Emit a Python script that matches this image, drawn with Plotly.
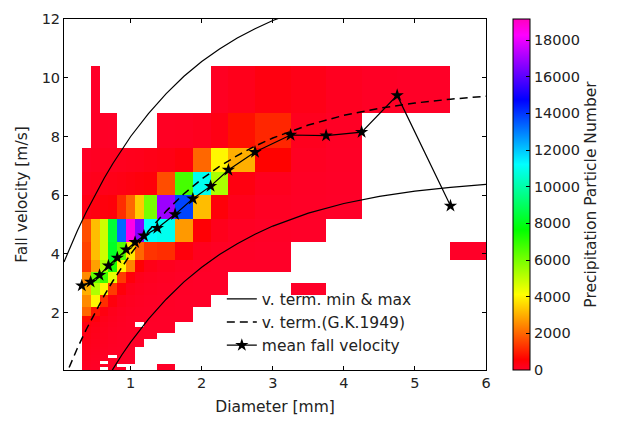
import plotly.graph_objects as go

# Parsivel class centres used as cell edges (as in the original pcolor plot)
diam_edges = [0.062, 0.187, 0.312, 0.437, 0.562, 0.687, 0.812, 0.937, 1.062, 1.187,
              1.375, 1.625, 1.875, 2.125, 2.375, 2.75, 3.25, 3.75, 4.25, 4.75, 5.5, 6.5]
vel_edges = [0.05, 0.15, 0.25, 0.35, 0.45, 0.55, 0.65, 0.75, 0.85, 0.95, 1.1, 1.3, 1.5,
             1.7, 1.9, 2.2, 2.6, 3.0, 3.4, 3.8, 4.4, 5.2, 6.0, 6.8, 7.6, 8.8, 10.4, 12.0]

# particle counts: one row per velocity class (bottom to top), one column per diameter class
counts = [
    [0, 0, 60, 40, 0, 30, 20, 0, 0, 0, 10, 0, 0, 0, 0, 0, 0, 0, 0, 0, 0],
    [0, 0, 80, 60, 30, 30, 0, 0, 0, 0, 10, 0, 0, 0, 0, 0, 0, 0, 0, 0, 0],
    [0, 0, 100, 70, 0, 40, 30, 20, 0, 0, 0, 0, 0, 0, 0, 0, 0, 0, 0, 0, 0],
    [0, 0, 120, 90, 60, 40, 30, 20, 0, 0, 0, 0, 0, 0, 0, 0, 0, 0, 0, 0, 0],
    [0, 0, 130, 100, 70, 0, 30, 20, 0, 0, 0, 0, 0, 0, 0, 0, 0, 0, 0, 0, 0],
    [0, 0, 150, 110, 80, 50, 30, 20, 0, 0, 0, 0, 0, 0, 0, 0, 0, 0, 0, 0, 0],
    [0, 0, 160, 120, 90, 60, 40, 20, 0, 0, 0, 0, 0, 0, 0, 0, 0, 0, 0, 0, 0],
    [0, 0, 180, 140, 100, 60, 40, 25, 0, 0, 0, 0, 0, 0, 0, 0, 0, 0, 0, 0, 0],
    [0, 0, 200, 150, 110, 70, 50, 30, 20, 0, 0, 0, 0, 0, 0, 0, 0, 0, 0, 0, 0],
    [0, 0, 230, 170, 120, 80, 50, 30, 20, 0, 0, 0, 0, 0, 0, 0, 0, 0, 0, 0, 0],
    [0, 0, 260, 200, 140, 90, 60, 40, 30, 20, 0, 0, 0, 0, 0, 0, 0, 0, 0, 0, 0],
    [0, 0, 300, 230, 160, 100, 70, 50, 30, 20, 10, 0, 0, 0, 0, 0, 0, 0, 0, 0, 0],
    [0, 0, 350, 270, 180, 120, 80, 50, 0, 20, 10, 0, 0, 0, 0, 0, 0, 0, 0, 0, 0],
    [0, 0, 700, 400, 220, 150, 100, 60, 40, 30, 20, 10, 0, 0, 0, 0, 0, 0, 0, 0, 0],
    [0, 0, 2000, 900, 350, 200, 120, 80, 50, 40, 30, 10, 0, 0, 0, 0, 0, 0, 0, 0, 0],
    [0, 0, 2500, 4000, 1200, 400, 200, 120, 80, 60, 40, 20, 10, 0, 0, 0, 0, 0, 0, 0, 0],
    [0, 0, 3000, 5200, 4000, 1400, 450, 200, 120, 80, 50, 30, 20, 10, 0, 0, 10, 0, 0, 0, 0],
    [0, 0, 2500, 6300, 6800, 4500, 1400, 450, 200, 120, 80, 40, 20, 10, 0, 0, 0, 0, 0, 0, 0],
    [0, 0, 1300, 2800, 5300, 7300, 4000, 2400, 550, 250, 150, 80, 40, 20, 10, 10, 0, 0, 0, 0, 0],
    [0, 0, 1500, 3200, 4800, 8200, 6500, 3800, 2000, 1300, 1200, 400, 150, 80, 40, 20, 0, 0, 0, 0, 10],
    [0, 0, 1650, 3200, 4800, 8400, 13300, 18600, 16600, 11200, 11000, 2700, 500, 200, 80, 40, 20, 0, 0, 0, 0],
    [0, 0, 300, 350, 400, 450, 1200, 2000, 3400, 6000, 16900, 13800, 3200, 450, 200, 80, 40, 20, 0, 0, 0],
    [0, 0, 150, 200, 220, 250, 300, 350, 400, 450, 1650, 6700, 11000, 5300, 350, 150, 60, 30, 0, 0, 0],
    [0, 0, 60, 100, 120, 130, 150, 180, 200, 250, 300, 400, 2000, 4000, 3000, 600, 100, 40, 0, 0, 0],
    [0, 0, 0, 30, 40, 30, 0, 0, 0, 0, 80, 100, 150, 300, 800, 1100, 150, 60, 0, 0, 0],
    [0, 0, 0, 20, 0, 0, 0, 0, 0, 0, 0, 0, 0, 100, 200, 350, 250, 120, 60, 30, 0],
    [0, 0, 0, 0, 0, 0, 0, 0, 0, 0, 0, 0, 0, 0, 0, 0, 0, 0, 0, 0, 0],
]
count_max = 19150

# mean fall velocity per diameter class
mean_d = [0.312, 0.437, 0.562, 0.687, 0.812, 0.937, 1.062, 1.187, 1.375, 1.625,
          1.875, 2.125, 2.375, 2.75, 3.25, 3.75, 4.25, 4.75, 5.5]
mean_v = [2.92, 3.05, 3.28, 3.60, 3.87, 4.15, 4.40, 4.62, 4.88, 5.35,
          5.88, 6.31, 6.86, 7.47, 8.05, 8.03, 8.15, 9.40, 5.64]

# terminal velocity curves
curve_d = [0.062, 0.125, 0.25, 0.375, 0.5, 0.625, 0.75, 0.875, 1.0, 1.25, 1.5, 1.75,
           2.0, 2.25, 2.5, 2.75, 3.0, 3.5, 4.0, 4.5, 5.0, 5.5, 6.0]
gk_v = [-0.27, 0.10, 0.79, 1.43, 2.02, 2.57, 3.08, 3.56, 4.00, 4.78, 5.46, 6.05,
        6.55, 6.98, 7.35, 7.67, 7.95, 8.39, 8.72, 8.96, 9.14, 9.27, 9.37]
vmax_v = [3.73, 4.10, 4.79, 5.43, 6.02, 6.57, 7.08, 7.56, 8.00, 8.78, 9.46, 10.05,
          10.55, 10.98, 11.35, 11.67, 11.95, 12.39, 12.72, 12.96, 13.14, 13.27, 13.37]
vmin_v = [-3.27, -2.90, -2.21, -1.57, -0.98, -0.43, 0.08, 0.56, 1.00, 1.78, 2.46, 3.05,
          3.55, 3.98, 4.35, 4.67, 4.95, 5.39, 5.72, 5.96, 6.14, 6.27, 6.37]

x_ticks = [1, 2, 3, 4, 5, 6]
y_ticks = [2, 4, 6, 8, 10, 12]
cbar_ticks = [0, 2000, 4000, 6000, 8000, 10000, 12000, 14000, 16000, 18000]

gist_rainbow = [
    [0.000, "rgb(255,0,41)"], [0.030, "rgb(255,0,0)"], [0.215, "rgb(255,255,0)"],
    [0.400, "rgb(0,255,0)"], [0.586, "rgb(0,255,255)"], [0.770, "rgb(0,0,255)"],
    [0.954, "rgb(255,0,255)"], [1.000, "rgb(255,0,191)"],
]

z = [[(v if v > 0 else None) for v in row] for row in counts]

fig = go.Figure()
fig.add_trace(go.Heatmap(
    x=diam_edges, y=vel_edges, z=z, zmin=0, zmax=count_max,
    colorscale=gist_rainbow, showscale=True, hoverongaps=False,
    colorbar=dict(
        x=1.063, xanchor="left", xpad=0, ypad=0, y=0.5, yanchor="middle",
        len=1, lenmode="fraction", thickness=17, thicknessmode="pixels",
        outlinecolor="black", outlinewidth=1,
        tickvals=cbar_ticks, tickformat="d", ticks="inside", ticklen=4,
        tickcolor="black", tickfont=dict(size=14.5),
        title=dict(text="Precipitation Particle Number", side="right",
                   font=dict(size=15.5)),
    ),
    showlegend=False,
))

line_style = dict(color="black", width=1.2)
fig.add_trace(go.Scatter(x=curve_d, y=vmax_v, mode="lines", line=line_style,
                         name="v. term. min & max", legendgroup="mm"))
fig.add_trace(go.Scatter(x=curve_d, y=vmin_v, mode="lines", line=line_style,
                         name="v. term. min & max", legendgroup="mm", showlegend=False))
fig.add_trace(go.Scatter(x=curve_d, y=gk_v, mode="lines",
                         line=dict(color="black", width=1.5, dash="8px,5px"),
                         name="v. term.(G.K.1949)"))
fig.add_trace(go.Scatter(x=mean_d, y=mean_v, mode="lines+markers",
                         line=dict(color="black", width=1.2),
                         marker=dict(symbol="star", size=10, color="black"),
                         name="mean fall velocity"))

axis_common = dict(showline=True, linecolor="black", linewidth=1, mirror="allticks",
                   ticks="inside", ticklen=4, tickcolor="black", showgrid=False,
                   zeroline=False, tickfont=dict(size=14.5))
fig.update_layout(
    width=624, height=424,
    margin=dict(l=64, r=138, t=19, b=54),
    paper_bgcolor="white", plot_bgcolor="white",
    font=dict(family="DejaVu Sans", size=14, color="#222"),
    xaxis=dict(range=[0.062, 6], tickvals=x_ticks,
               title=dict(text="Diameter [mm]", font=dict(size=15.5), standoff=10),
               **axis_common),
    yaxis=dict(range=[0.05, 12], tickvals=y_ticks,
               title=dict(text="Fall velocity [m/s]", font=dict(size=15.5), standoff=10),
               **axis_common),
    legend=dict(x=0.374, y=0.25, xanchor="left", yanchor="top",
                bgcolor="rgba(0,0,0,0)", borderwidth=0, font=dict(size=15.5),
                tracegroupgap=0),
)

fig.write_html("out.html")
